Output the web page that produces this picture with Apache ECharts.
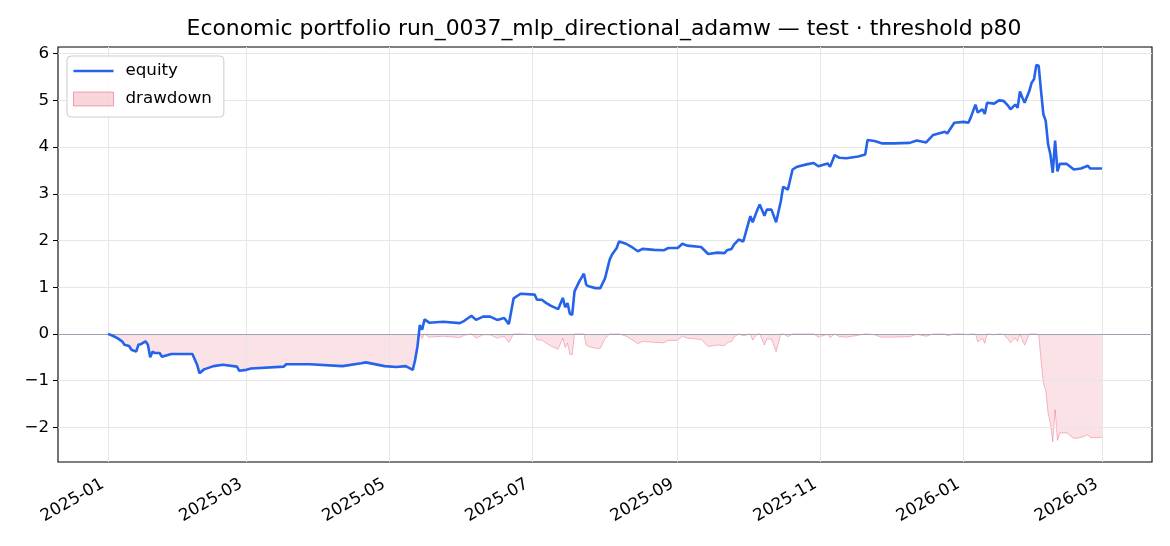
<!DOCTYPE html>
<html>
<head>
<meta charset="utf-8">
<script src="https://cdn.jsdelivr.net/npm/echarts@6/dist/echarts.min.js"></script>
<style>
html,body{margin:0;padding:0;background:#fff;}
#chart{width:1170px;height:546px;}
</style>
</head>
<body>
<div id="chart"></div>
<script>
const titleText = "Economic portfolio run_0037_mlp_directional_adamw — test · threshold p80";
const dates = [
"2025-01-01","2025-01-03","2025-01-05","2025-01-07","2025-01-08","2025-01-10","2025-01-11","2025-01-13","2025-01-14","2025-01-15",
"2025-01-17","2025-01-18","2025-01-19","2025-01-20","2025-01-21","2025-01-23","2025-01-24","2025-01-28","2025-02-06","2025-02-08",
"2025-02-09","2025-02-11","2025-02-15","2025-02-19","2025-02-25","2025-02-26","2025-03-01","2025-03-03","2025-03-17","2025-03-18",
"2025-03-28","2025-04-11","2025-04-19","2025-04-21","2025-04-29","2025-05-04","2025-05-08","2025-05-11","2025-05-12","2025-05-13",
"2025-05-14","2025-05-15","2025-05-16","2025-05-18","2025-05-24","2025-05-31","2025-06-02","2025-06-05","2025-06-07","2025-06-10",
"2025-06-13","2025-06-16","2025-06-19","2025-06-21","2025-06-23","2025-06-26","2025-07-02","2025-07-03","2025-07-05","2025-07-07",
"2025-07-09","2025-07-12","2025-07-14","2025-07-15","2025-07-16","2025-07-17","2025-07-18","2025-07-19","2025-07-21","2025-07-23",
"2025-07-24","2025-07-25","2025-07-28","2025-07-30","2025-08-01","2025-08-03","2025-08-04","2025-08-06","2025-08-07","2025-08-10",
"2025-08-13","2025-08-15","2025-08-17","2025-08-22","2025-08-26","2025-08-28","2025-09-01","2025-09-03","2025-09-05","2025-09-11",
"2025-09-14","2025-09-18","2025-09-21","2025-09-22","2025-09-24","2025-09-25","2025-09-27","2025-09-29","2025-10-02","2025-10-03",
"2025-10-05","2025-10-06","2025-10-08","2025-10-09","2025-10-11","2025-10-13","2025-10-15","2025-10-16","2025-10-18","2025-10-20",
"2025-10-22","2025-10-26","2025-10-29","2025-10-31","2025-11-04","2025-11-05","2025-11-07","2025-11-09","2025-11-12","2025-11-17",
"2025-11-20","2025-11-21","2025-11-24","2025-11-27","2025-12-02","2025-12-09","2025-12-12","2025-12-16","2025-12-19","2025-12-24",
"2025-12-25","2025-12-28","2026-01-01","2026-01-03","2026-01-04","2026-01-06","2026-01-07","2026-01-09","2026-01-10","2026-01-11",
"2026-01-14","2026-01-16","2026-01-18","2026-01-20","2026-01-21","2026-01-23","2026-01-24","2026-01-25","2026-01-26","2026-01-27",
"2026-01-29","2026-01-30","2026-01-31","2026-02-01","2026-02-02","2026-02-03","2026-02-04","2026-02-05","2026-02-06","2026-02-07",
"2026-02-08","2026-02-09","2026-02-10","2026-02-11","2026-02-14","2026-02-17","2026-02-20","2026-02-23","2026-02-24","2026-03-01"
];
const equity = [
0.00,-0.04,-0.09,-0.16,-0.23,-0.26,-0.34,-0.38,-0.23,-0.22,
-0.16,-0.23,-0.50,-0.38,-0.41,-0.41,-0.49,-0.43,-0.43,-0.66,
-0.84,-0.76,-0.69,-0.66,-0.70,-0.79,-0.77,-0.74,-0.70,-0.65,
-0.65,-0.69,-0.63,-0.61,-0.69,-0.71,-0.69,-0.77,-0.56,-0.27,
0.19,0.09,0.31,0.24,0.26,0.23,0.28,0.39,0.30,0.37,
0.37,0.30,0.34,0.21,0.76,0.86,0.84,0.73,0.73,0.66,
0.60,0.53,0.77,0.57,0.66,0.43,0.41,0.91,1.12,1.29,
1.05,1.02,0.98,0.98,1.19,1.59,1.70,1.84,1.98,1.93,
1.84,1.77,1.82,1.80,1.79,1.84,1.84,1.93,1.89,1.86,
1.71,1.74,1.73,1.79,1.82,1.91,2.02,1.98,2.52,2.39,
2.66,2.77,2.53,2.66,2.66,2.39,2.84,3.15,3.09,3.52,
3.58,3.63,3.66,3.59,3.65,3.58,3.83,3.77,3.76,3.80,
3.84,4.15,4.13,4.08,4.08,4.09,4.14,4.10,4.26,4.33,
4.29,4.52,4.54,4.52,4.63,4.91,4.74,4.81,4.71,4.95,
4.93,5.00,4.99,4.88,4.81,4.91,4.84,5.19,5.06,4.95,
5.20,5.38,5.45,5.76,5.74,5.20,4.70,4.56,4.06,3.84,
3.45,4.14,3.48,3.64,3.64,3.52,3.54,3.60,3.54,3.54
];
const drawdown = [
0.00,-0.04,-0.09,-0.16,-0.23,-0.26,-0.34,-0.38,-0.23,-0.22,
-0.16,-0.23,-0.50,-0.38,-0.41,-0.41,-0.49,-0.43,-0.43,-0.66,
-0.84,-0.76,-0.69,-0.66,-0.70,-0.79,-0.77,-0.74,-0.70,-0.65,
-0.65,-0.69,-0.63,-0.61,-0.69,-0.71,-0.69,-0.77,-0.56,-0.27,
0.00,-0.10,0.00,-0.07,-0.05,-0.08,-0.03,0.00,-0.09,-0.02,
-0.02,-0.09,-0.05,-0.18,0.00,0.00,-0.02,-0.13,-0.13,-0.20,
-0.26,-0.33,-0.09,-0.29,-0.20,-0.43,-0.45,0.00,0.00,0.00,
-0.24,-0.27,-0.31,-0.31,-0.10,0.00,0.00,0.00,0.00,-0.05,
-0.14,-0.21,-0.16,-0.18,-0.19,-0.14,-0.14,-0.05,-0.09,-0.12,
-0.27,-0.24,-0.25,-0.19,-0.16,-0.07,0.00,-0.04,0.00,-0.13,
0.00,0.00,-0.24,-0.11,-0.11,-0.38,0.00,0.00,-0.06,0.00,
0.00,0.00,0.00,-0.07,-0.01,-0.08,0.00,-0.06,-0.07,-0.03,
0.00,0.00,-0.02,-0.07,-0.07,-0.06,-0.01,-0.05,0.00,0.00,
-0.04,0.00,0.00,-0.02,0.00,0.00,-0.17,-0.10,-0.20,0.00,
-0.02,0.00,-0.01,-0.12,-0.19,-0.09,-0.16,0.00,-0.13,-0.24,
0.00,0.00,0.00,0.00,-0.02,-0.56,-1.06,-1.20,-1.70,-1.92,
-2.31,-1.62,-2.28,-2.12,-2.12,-2.24,-2.22,-2.16,-2.22,-2.22
];
const yTicks = [-2,-1,0,1,2,3,4,5,6];
const xTicks = ["2025-01-01","2025-03-01","2025-05-01","2025-07-01","2025-09-01","2025-11-01","2026-01-01","2026-03-01"];
const xMin = "2024-12-10T16:00:00Z";
const xMax = "2026-03-22T08:00:00Z";
const yMin = -2.743;
const yMax = 6.143;

const FONT = "'DejaVu Sans', sans-serif";
const ts = s => Date.parse(s.length === 10 ? s + "T00:00:00Z" : s);
const xTickTs = xTicks.map(ts);
const fmtMonth = v => {
  const d = new Date(v);
  const m = d.getUTCMonth() + 1;
  return d.getUTCFullYear() + "-" + (m < 10 ? "0" + m : "" + m);
};
const fmtY = v => (v < 0 ? "\u2212" + Math.abs(v) : "" + v);

const chart = echarts.init(document.getElementById('chart'), null, {renderer:'canvas'});
const gridLines = yTicks.map(v => ({yAxis: v})).concat(xTickTs.map(t => ({xAxis: t})));

chart.setOption({
  animation: false,
  backgroundColor: '#ffffff',
  textStyle: {fontFamily: FONT},
  title: {
    text: titleText,
    left: 599, top: 13, textAlign: 'center',
    textStyle: {fontFamily: FONT, fontSize: 21.9, fontWeight: 'normal', color: '#000'}
  },
  grid: {left: 58, right: 18, top: 47, bottom: 84, show: true, borderColor: '#000', borderWidth: 1.1, backgroundColor: 'transparent'},
  legend: {
    orient: 'vertical', left: 67, top: 56, z: 20,
    padding: [5, 12, 8, 6], itemGap: 8, itemWidth: 40, itemHeight: 14,
    backgroundColor: 'rgba(255,255,255,0.85)', borderColor: '#cccccc', borderWidth: 1, borderRadius: 4,
    textStyle: {fontFamily: FONT, fontSize: 16.7, lineHeight: 20, color: '#000', padding: [0,0,0,7]},
    data: [
      {name: 'equity', icon: 'path://M0,0 L40,0 L40,2.6 L0,2.6 Z', itemStyle: {color: '#2563eb'}},
      {name: 'drawdown', icon: 'rect', itemStyle: {color: 'rgba(220,20,60,0.18)', borderColor: 'rgba(220,20,60,0.35)', borderWidth: 1}}
    ]
  },
  xAxis: {
    type: 'value', min: ts(xMin), max: ts(xMax), scale: true,
    axisLine: {show: false},
    splitLine: {show: false},
    axisTick: {show: true, inside: false, length: 5, lineStyle: {color: '#000', width: 1}, customValues: xTickTs},
    axisLabel: {
      customValues: xTickTs, rotate: 30, margin: 18, padding: [0, 6, 0, 0],
      fontFamily: FONT, fontSize: 16.7, color: '#000',
      formatter: v => fmtMonth(v)
    }
  },
  yAxis: {
    type: 'value', min: yMin, max: yMax,
    axisLine: {show: false},
    splitLine: {show: false},
    axisTick: {show: true, inside: false, length: 5, lineStyle: {color: '#000', width: 1}, customValues: yTicks},
    axisLabel: {customValues: yTicks, margin: 9, fontFamily: FONT, fontSize: 16.7, color: '#000', formatter: v => fmtY(v)}
  },
  series: [
    {
      name: 'drawdown', type: 'line', z: 2,
      data: dates.map((d, i) => [ts(d), drawdown[i]]),
      symbol: 'none', showSymbol: false,
      lineStyle: {color: 'rgba(220,20,60,0.28)', width: 1},
      itemStyle: {color: 'rgba(220,20,60,0.18)'},
      areaStyle: {color: 'rgba(220,20,60,0.18)', origin: 0},
      markLine: {
        z: 3, silent: true, symbol: ['none', 'none'], animation: false,
        label: {show: false},
        lineStyle: {color: '#e6e6e6', width: 1, type: 'solid'},
        data: gridLines.concat([{yAxis: 0, lineStyle: {color: '#9fa2b4', width: 1.2, type: 'solid'}}])
      }
    },
    {
      name: 'equity', type: 'line', z: 5,
      data: dates.map((d, i) => [ts(d), equity[i]]),
      symbol: 'none', showSymbol: false,
      lineStyle: {color: '#2563eb', width: 2.6},
      itemStyle: {color: '#2563eb'}
    }
  ]
});
</script>
</body>
</html>
